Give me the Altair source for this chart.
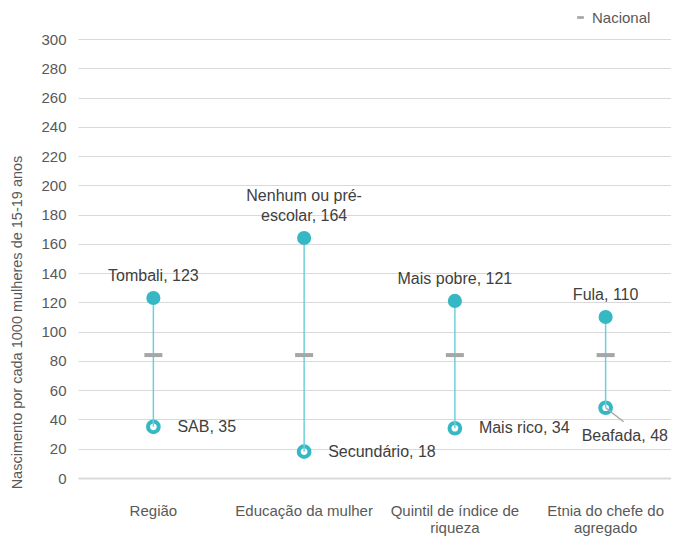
import altair as alt
import pandas as pd

categories = ["Região", "Educação da mulher", "Quintil de índice de riqueza", "Etnia do chefe do agregado"]
high_names = ["Tombali", "Nenhum ou pré-\nescolar", "Mais pobre", "Fula"]
high_vals = [123, 164, 121, 110]
low_names = ["SAB", "Secundário", "Mais rico", "Beafada"]
low_vals = [35, 18, 34, 48]
national_vals = [84, 84, 84, 84]
series_name = "Nacional"
y_ticks = list(range(0, 301, 20))

df = pd.DataFrame({
    "cat": categories,
    "high": high_vals,
    "low": low_vals,
    "nat": national_vals,
    "hname": high_names,
    "lname": low_names,
})
df["hlabel"] = df["hname"] + ", " + df["high"].astype(str)
df["llabel"] = df["lname"] + ", " + df["low"].astype(str)
df["serie"] = series_name

FONT = "Liberation Sans, Arial, sans-serif"
TEAL = "#35B8C4"
LINE = "#6FCFD7"
TXT = "#404040"
AX = "#595959"
YTITLE = "Nascimento por cada 1000 mulheres de 15-19 anos"

label_expr = ("datum.label == 'Quintil de índice de riqueza' ? ['Quintil de índice de', 'riqueza'] : "
              "datum.label == 'Etnia do chefe do agregado' ? ['Etnia do chefe do', 'agregado'] : datum.label")

x_enc = alt.X("cat:N", sort=categories, title=None,
              scale=alt.Scale(paddingInner=0, paddingOuter=0, range=[0, 603]),
              axis=alt.Axis(labelAngle=0, ticks=False, domain=False,
                            labelPadding=25, labelFontSize=15, labelColor=AX, labelFont=FONT,
                            labelExpr=label_expr, labelLimit=200, labelLineHeight=17))
y_scale = alt.Scale(domain=[0, 300], nice=False)
y_axis = alt.Axis(values=y_ticks, grid=True, gridColor="#D9D9D9",
                  gridWidth=alt.condition("datum.value == 0", alt.value(2), alt.value(1)),
                  domain=False, ticks=False,
                  labelOverlap=False, labelPadding=12, labelFontSize=15, labelColor=AX, labelFont=FONT,
                  title=YTITLE, titleFontSize=14.5, titleY=283,
                  titleFontWeight="normal", titleColor=AX, titleFont=FONT, titlePadding=16)


def Y(field):
    return alt.Y(field, scale=y_scale, axis=y_axis, title=YTITLE)


base = alt.Chart(df)
two_line = alt.datum.cat == categories[1]

low_pts = base.mark_point(filled=True, fill="white", stroke=TEAL, strokeWidth=4, size=115, opacity=1).encode(
    x=x_enc, y=Y("low:Q"))
rule = base.mark_rule(color=LINE, strokeWidth=1.5).encode(x=x_enc, y=Y("low:Q"), y2="high:Q")
tick = base.mark_tick(size=18, thickness=4, opacity=1).encode(
    x=x_enc, y=Y("nat:Q"),
    color=alt.Color("serie:N", scale=alt.Scale(domain=[series_name], range=["#A6A6A6"]),
                    legend=alt.Legend(title=None, orient="none", legendX=495, legendY=-29,
                                      symbolType="M-1,-0.4H1V0.4H-1Z", symbolSize=45, symbolStrokeWidth=0,
                                      labelFontSize=15, labelColor=AX, labelFont=FONT,
                                      labelOffset=4)))
high_pts = base.mark_circle(size=200, color=TEAL, opacity=1).encode(x=x_enc, y=Y("high:Q"))
high_text = base.transform_filter(~two_line).mark_text(
    baseline="bottom", dy=-14, fontSize=16, color=TXT, font=FONT).encode(
    x=x_enc, y=Y("high:Q"), text="hlabel:N")
high_text2 = base.transform_filter(two_line).mark_text(
    baseline="bottom", dy=-34, fontSize=16, color=TXT, font=FONT,
    lineBreak="\n", lineHeight=20).encode(x=x_enc, y=Y("high:Q"), text="hlabel:N")
low_text = base.transform_filter(alt.datum.cat != categories[3]).mark_text(
    align="left", baseline="middle", dx=24, fontSize=16, color=TXT, font=FONT).encode(
    x=x_enc, y=Y("low:Q"), text="llabel:N")
low_text2 = base.transform_filter(alt.datum.cat == categories[3]).mark_text(
    align="left", baseline="middle", dx=-24, dy=28, fontSize=16, color=TXT, font=FONT).encode(
    x=x_enc, y=Y("low:Q"), text="llabel:N")
leader = base.transform_filter(alt.datum.cat == categories[3]).mark_rule(
    color="#A6A6A6", strokeWidth=1.5, x2Offset=18, y2Offset=14).encode(
    x=x_enc, x2="cat:N", y=Y("low:Q"), y2="low:Q")

chart = alt.layer(low_pts, leader, rule, tick, high_pts, high_text, high_text2, low_text, low_text2).properties(
    width=593, height=439,
    autosize=alt.AutoSizeParams(type="none"),
    padding={"left": 70, "top": 31, "right": 0, "bottom": 58}
).configure_view(stroke=None)

chart.save("out.html", embed_options={"renderer": "svg", "actions": False})
